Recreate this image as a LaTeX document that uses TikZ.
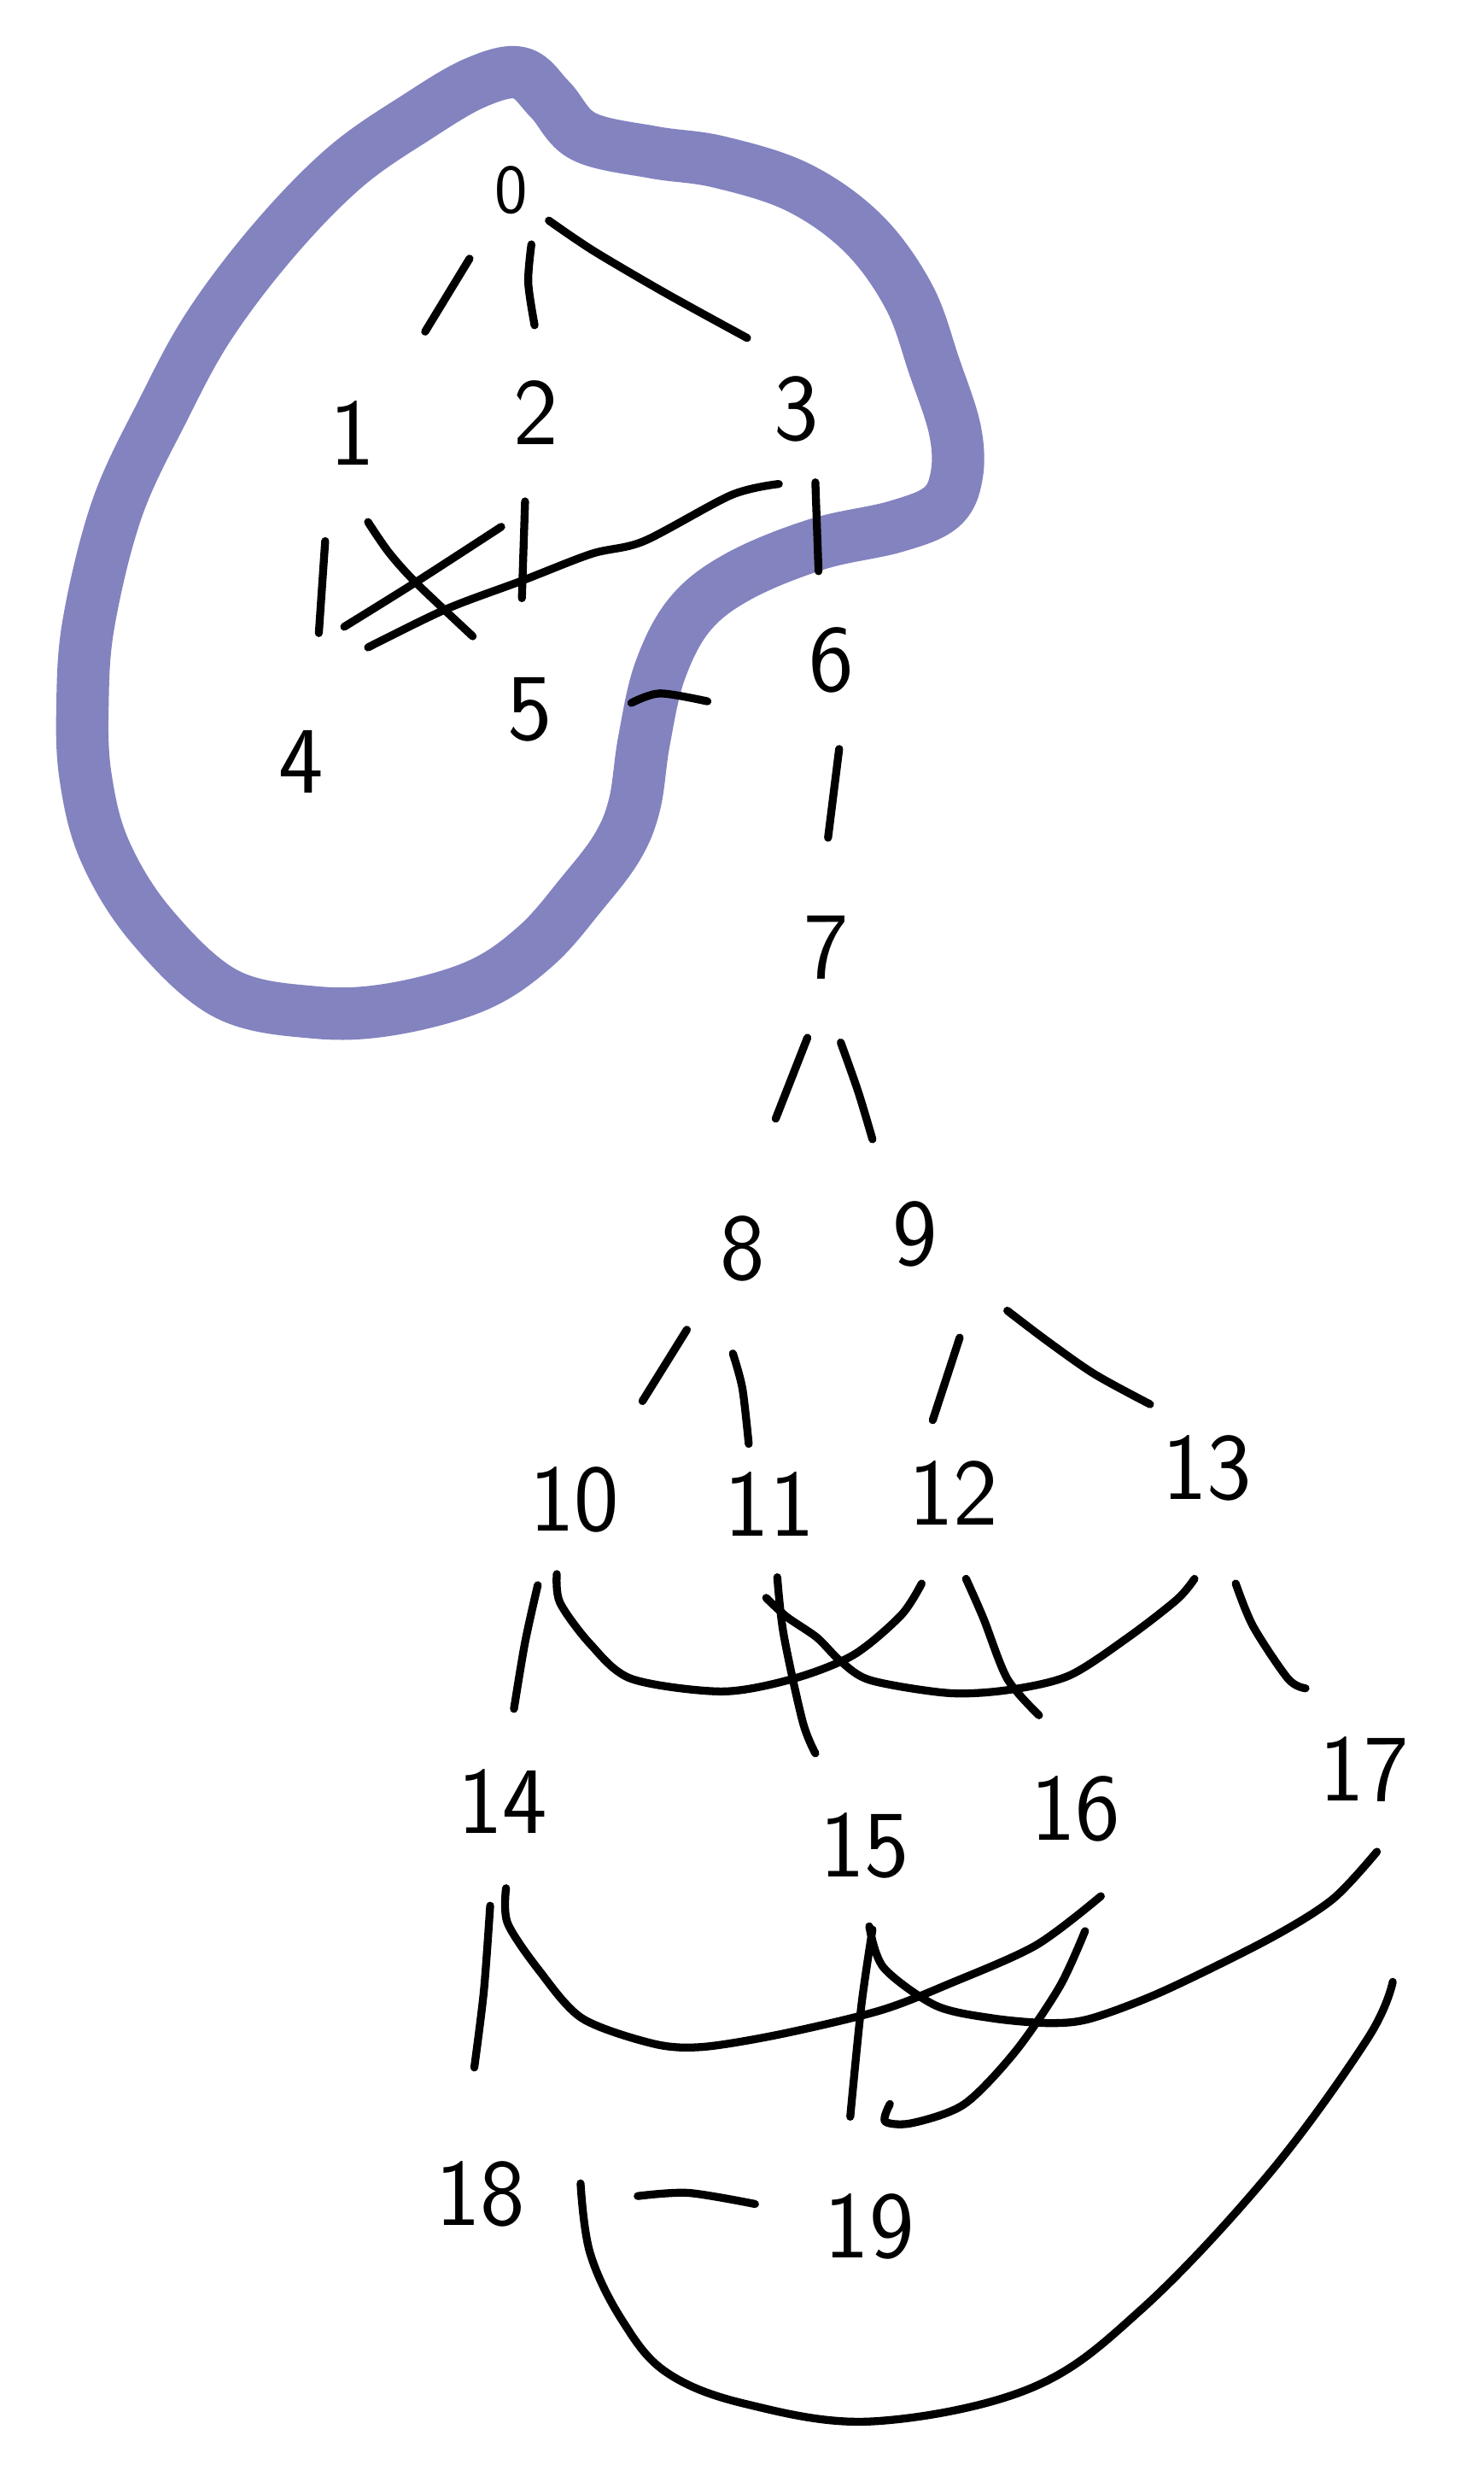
\documentclass[tikz,border=0pt]{standalone}
\definecolor{blobc}{RGB}{131,131,192}
\begin{document}
\begin{tikzpicture}[x=1pt,y=-1pt,
  edge/.style={line width=5pt, line cap=round, line join=round},
  lbl/.style={font=\fontsize{60}{60}\selectfont\sffamily, inner sep=0pt},
  blob/.style={line width=33pt, draw=blobc, line join=round}]
\useasboundingbox (0,0) rectangle (935,1568);
\fill[white] (0,0) rectangle (935,1568);
% SCC highlight
\draw[blob] plot[smooth cycle, tension=0.6] coordinates {
 (328,46) (347,63) (368,86) (412,96) (453,102) (503,118) (544,147) (573,187)
 (589,231) (602,271) (603,300) (593,320) (564,332) (515,343) (466,363) (435,387)
 (416,423) (406,467) (400,507) (389,534) (367,563) (338,596) (301,621) (247,636)
 (198,638) (142,626) (95,583) (66,536) (54,490) (52,445) (56,392) (74,320)
 (103,258) (132,205) (173,151) (218,105) (264,73) (300,52)};
% nodes
\node[lbl, font=\fontsize{44}{44}\selectfont\sffamily] (n0) at (322,120) {0};
\node[lbl] (n1) at (222,273) {1};
\node[lbl] (n2) at (338,260) {2};
\node[lbl] (n3) at (502,258) {3};
\node[lbl] (n4) at (190,480) {4};
\node[lbl] (n5) at (334,447) {5};
\node[lbl] (n6) at (524,416) {6};
\node[lbl] (n7) at (521,597) {7};
\node[lbl] (n8) at (468,787) {8};
\node[lbl] (n9) at (577,778) {9};
\node[lbl] (n10) at (362,945) {10};
\node[lbl] (n11) at (485,948) {11};
\node[lbl] (n12) at (601,941) {12};
\node[lbl] (n13) at (761,925) {13};
\node[lbl] (n14) at (317,1135) {14};
\node[lbl] (n15) at (545,1163) {15};
\node[lbl] (n16) at (678,1140) {16};
\node[lbl] (n17) at (860,1115) {17};
\node[lbl] (n18) at (303,1383) {18};
\node[lbl] (n19) at (548,1403) {19};
% edges
\draw[edge] ([shift={(-26,43)}]n0.center) -- ([shift={(46,-64)}]n1.center);
\draw[edge] plot[smooth] coordinates {([shift={(13,34)}]n0.center) (333,178) ([shift={(-1,-55)}]n2.center)};
\draw[edge] plot[smooth] coordinates {([shift={(24,19)}]n0.center) (374,158) (420,185) ([shift={(-31,-45)}]n3.center)};
\draw[edge] ([shift={(-17,68)}]n1.center) -- ([shift={(11,-81)}]n4.center);
\draw[edge] plot[smooth] coordinates {([shift={(10,56)}]n1.center) (245,348) (262,367) ([shift={(-36,-46)}]n5.center)};
\draw[edge] ([shift={(-7,56)}]n2.center) -- ([shift={(-5,-70)}]n5.center);
\draw[edge] plot[smooth] coordinates {([shift={(-22,72)}]n2.center) (262,367) ([shift={(27,-85)}]n4.center)};
\draw[edge] plot[smooth] coordinates {([shift={(-11,47)}]n3.center) (461,312) (406,341) (373,349) (329,366) (281,384) ([shift={(42,-72)}]n4.center)};
\draw[edge] ([shift={(12,46)}]n3.center) -- ([shift={(-8,-56)}]n6.center);
\draw[edge] plot[smooth] coordinates {([shift={(64,-4)}]n5.center) (416,437) ([shift={(-78,26)}]n6.center)};
\draw[edge] ([shift={(5,56)}]n6.center) -- ([shift={(1,-69)}]n7.center);
\draw[edge] ([shift={(-12,57)}]n7.center) -- ([shift={(21,-82)}]n8.center);
\draw[edge] plot[smooth] coordinates {([shift={(9,60)}]n7.center) (541,688) ([shift={(-27,-60)}]n9.center)};
\draw[edge] ([shift={(-35,51)}]n8.center) -- ([shift={(43,-62)}]n10.center);
\draw[edge] plot[smooth] coordinates {([shift={(-6,66)}]n8.center) (468,875) ([shift={(-13,-38)}]n11.center)};
\draw[edge] ([shift={(28,65)}]n9.center) -- ([shift={(-13,-46)}]n12.center);
\draw[edge] plot[smooth] coordinates {([shift={(58,48)}]n9.center) (660,845) (690,866) ([shift={(-36,-40)}]n13.center)};
\draw[edge] plot[smooth] coordinates {([shift={(-23,54)}]n10.center) (331,1035) ([shift={(7,-58)}]n14.center)};
\draw[edge] plot[smooth] coordinates {([shift={(-11,47)}]n10.center) (353,1010) (372,1036) (398,1058) (455,1066) (500,1058) (538,1043) (568,1018) ([shift={(-20,57)}]n12.center)};
\draw[edge] plot[smooth] coordinates {([shift={(5,46)}]n11.center) (494,1030) (506,1085) ([shift={(-31,-58)}]n15.center)};
\draw[edge] plot[smooth] coordinates {([shift={(-2,59)}]n11.center) (496,1019) (515,1032) (530,1047) (549,1059) (598,1067) (636,1065) (674,1056) (711,1032) (742,1008) ([shift={(-8,70)}]n13.center)};
\draw[edge] plot[smooth] coordinates {([shift={(8,54)}]n12.center) (620,1020) (635,1058) ([shift={(-23,-59)}]n16.center)};
\draw[edge] plot[smooth] coordinates {([shift={(18,73)}]n13.center) (790,1025) (812,1058) ([shift={(-37,-51)}]n17.center)};
\draw[edge] plot[smooth] coordinates {([shift={(-8,66)}]n14.center) (305,1255) ([shift={(-4,-80)}]n18.center)};
\draw[edge] plot[smooth] coordinates {([shift={(2,55)}]n14.center) (320,1212) (340,1242) (367,1272) (412,1288) (443,1290) (492,1282) (555,1267) (599,1250) (653,1226) ([shift={(16,55)}]n16.center)};
\draw[edge] plot[smooth] coordinates {([shift={(5,53)}]n15.center) (543,1264) ([shift={(-12,-69)}]n19.center)};
\draw[edge] plot[smooth] coordinates {([shift={(3,51)}]n15.center) (557,1240) (590,1264) (626,1272) (662,1275) (688,1272) (733,1255) (800,1222) (840,1197) ([shift={(8,52)}]n17.center)};
\draw[edge] plot[smooth] coordinates {([shift={(6,77)}]n16.center) (668,1252) (640,1293) (608,1326) (575,1338) (558,1337) ([shift={(13,-77)}]n19.center)};
\draw[edge] plot[smooth] coordinates {([shift={(99,1)}]n18.center) (434,1382) ([shift={(-72,-14)}]n19.center)};
\draw[edge] plot[smooth, tension=0.6] coordinates {([shift={(18,134)}]n17.center) (862,1285) (800,1370) (720,1455) (650,1505) (550,1526) (470,1515) (420,1495) (392,1462) (372,1420) ([shift={(63,-7)}]n18.center)};
\end{tikzpicture}
\end{document}
